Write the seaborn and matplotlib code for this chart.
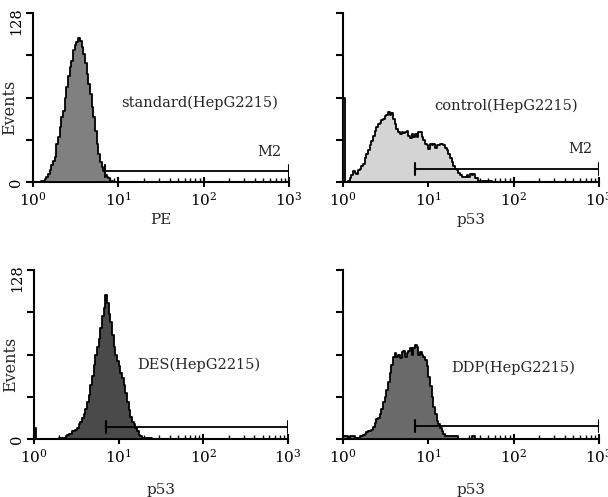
import numpy as np
import pandas as pd
import matplotlib
matplotlib.use("Agg")
import matplotlib.pyplot as plt
from matplotlib.transforms import ScaledTranslation
import seaborn as sns

sns.set_theme(style="ticks")
plt.rcParams["font.family"] = ["DejaVu Serif"]
plt.rcParams["mathtext.fontset"] = "dejavuserif"

# ---- data (channel counts on a log scale; channel width in decades) ----
CHANNEL_W = 0.0196

titles = ["standard(HepG2215)", "control(HepG2215)", "DES(HepG2215)", "DDP(HepG2215)"]
xlabels = ["PE", "p53", "p53", "p53"]
gate_labels = ["M2", "M2", "", ""]
gate_start = [7.0, 7.0, 7.0, 7.0]
gate_end = [1000, 1000, 1000, 1000]
gate_level = [8, 10, 9, 10]

# panel 1: standard
start_1 = 5
counts_1 = [1, 1, 2, 4, 6, 9, 13, 16, 19, 29, 34, 42, 49, 54, 64, 72, 80, 87, 92,
            100, 104, 106, 109, 107, 102, 97, 90, 82, 74, 67, 57, 49, 39, 29, 21,
            15, 11, 8, 5, 4, 3, 1, 1]

# panel 2: control
start_2 = 0
counts_2 = [64, 0, 0, 1, 3, 5, 8, 7, 6, 9, 10, 12, 14, 18, 21, 24, 28, 31, 35, 39,
            42, 44, 45, 47, 48, 50, 51, 53, 51, 52, 48, 44, 40, 38, 36, 38, 37,
            38, 39, 35, 33, 36, 34, 36, 34, 38, 38, 34, 32, 29, 28, 25, 29, 28,
            29, 26, 28, 28, 29, 29, 28, 26, 24, 21, 18, 15, 12, 10, 9, 7, 5, 4, 4,
            4, 5, 4, 6, 5, 6, 3, 3, 1, 1, 1, 1, 1, 1, 1, 1]

# panel 3: DES
start_3 = 0
counts_3 = [8] + [0] * 14 + [1, 1, 1, 1, 2, 3, 4, 4, 6, 6, 7, 8, 11, 13, 16, 19, 23, 28,
            33, 41, 48, 56, 64, 70, 76, 84, 93, 99, 109, 103, 95, 89, 79, 70,
            64, 59, 55, 50, 46, 41, 35, 28, 22, 17, 13, 11, 8, 6, 3, 2, 1, 1, 1,
            1, 1, 1]

# panel 4: DDP
start_4 = 0
counts_4 = [2, 2, 2, 1, 2, 2, 2, 1, 1, 1, 2, 2, 3, 4, 5, 6, 6, 7, 9, 12, 15, 16, 19,
            23, 28, 32, 37, 43, 50, 56, 62, 65, 62, 64, 61, 66, 67, 62, 65, 67,
            69, 64, 69, 71, 70, 64, 66, 64, 62, 60, 55, 47, 40, 32, 24, 19, 14,
            11, 8, 6, 4, 2, 2, 2, 2, 2, 2, 2, 2, 0, 0, 0, 0, 0, 0, 0, 0, 2, 2]

starts = [start_1, start_2, start_3, start_4]
counts_all = [counts_1, counts_2, counts_3, counts_4]

# ---- styles ----
FS = 10.5
fills = ["#808080", "#d4d4d4", "#4a4a4a", "#6a6a6a"]
positions = [
    [0.0543, 0.6338, 0.4210, 0.3400],
    [0.5641, 0.6338, 0.4210, 0.3400],
    [0.0559, 0.1167, 0.4178, 0.3400],
    [0.5641, 0.1167, 0.4210, 0.3400],
]
text_pos = [(89, 60), (82, 58), (89, 56), (98, 54)]
m2_pos = [(590, 23), (600, 25)]
xlabel_pad = [3, 3, 12, 12]

fig = plt.figure(figsize=(6.08, 4.97), dpi=100)

for i in range(4):
    ax = fig.add_axes(positions[i])
    c = np.asarray(counts_all[i], dtype=float)
    n = len(c)
    idx = starts[i] + np.arange(n)
    centers = 10 ** ((idx + 0.5) * CHANNEL_W)
    df = pd.DataFrame({"x": centers, "w": c})
    sns.histplot(data=df, x="x", weights="w", bins=n,
                 binrange=(starts[i] * CHANNEL_W, (starts[i] + n) * CHANNEL_W),
                 log_scale=True, element="step", fill=True, color=fills[i],
                 alpha=1, edgecolor="black", linewidth=1.3, ax=ax, zorder=3)

    ax.set_xlim(1, 1000)
    ax.set_ylim(0, 128)
    sns.despine(ax=ax)
    for s in ["left", "bottom"]:
        ax.spines[s].set_linewidth(1.5)
        ax.spines[s].set_color("black")

    # y ticks
    ax.set_yticks([0, 32, 64, 96, 128])
    if i in (0, 2):
        ax.set_yticklabels(["0", "", "", "", "128"], rotation=90, va="center",
                           fontsize=FS)
        ax.set_ylabel("Events", fontsize=FS + 1)
        ax.yaxis.set_label_coords(-0.060, 0.44)
    else:
        ax.set_yticklabels([])
        ax.set_ylabel("")
    ax.tick_params(axis="y", direction="out", length=5, width=1.5, pad=2,
                   colors="black")
    if i in (0, 2):
        top_lbl = ax.get_yticklabels()[-1]
        top_lbl.set_transform(top_lbl.get_transform()
                              + ScaledTranslation(0, -6 / 72, fig.dpi_scale_trans))

    # x ticks
    ax.set_xticks([1, 10, 100, 1000])
    ax.set_xticklabels([r"$10^{0}$", r"$10^{1}$", r"$10^{2}$", r"$10^{3}$"],
                       fontsize=FS + 0.5)
    ax.tick_params(axis="x", which="major", direction="inout", length=7,
                   width=1.5, pad=3, colors="black")
    ax.tick_params(axis="x", which="minor", direction="in", length=3,
                   width=1.0, colors="black")
    ax.set_xlabel(xlabels[i], fontsize=FS + 0.5, labelpad=xlabel_pad[i])

    # M2 gate marker
    ax.plot([gate_start[i], gate_end[i]], [gate_level[i], gate_level[i]],
            color="black", lw=1.3, zorder=4)
    for gx in (gate_start[i], gate_end[i]):
        ax.plot([gx, gx], [gate_level[i] - 4.5, gate_level[i] + 4.5],
                color="black", lw=1.5, zorder=4)
    if gate_labels[i]:
        ax.text(m2_pos[i][0], m2_pos[i][1], gate_labels[i], fontsize=FS,
                ha="center", va="center")

    ax.text(text_pos[i][0], text_pos[i][1], titles[i], fontsize=FS,
            ha="center", va="center")
    ax.set_facecolor("white")
    ax.grid(False)

fig.savefig("out.png", dpi=100, facecolor="white")
